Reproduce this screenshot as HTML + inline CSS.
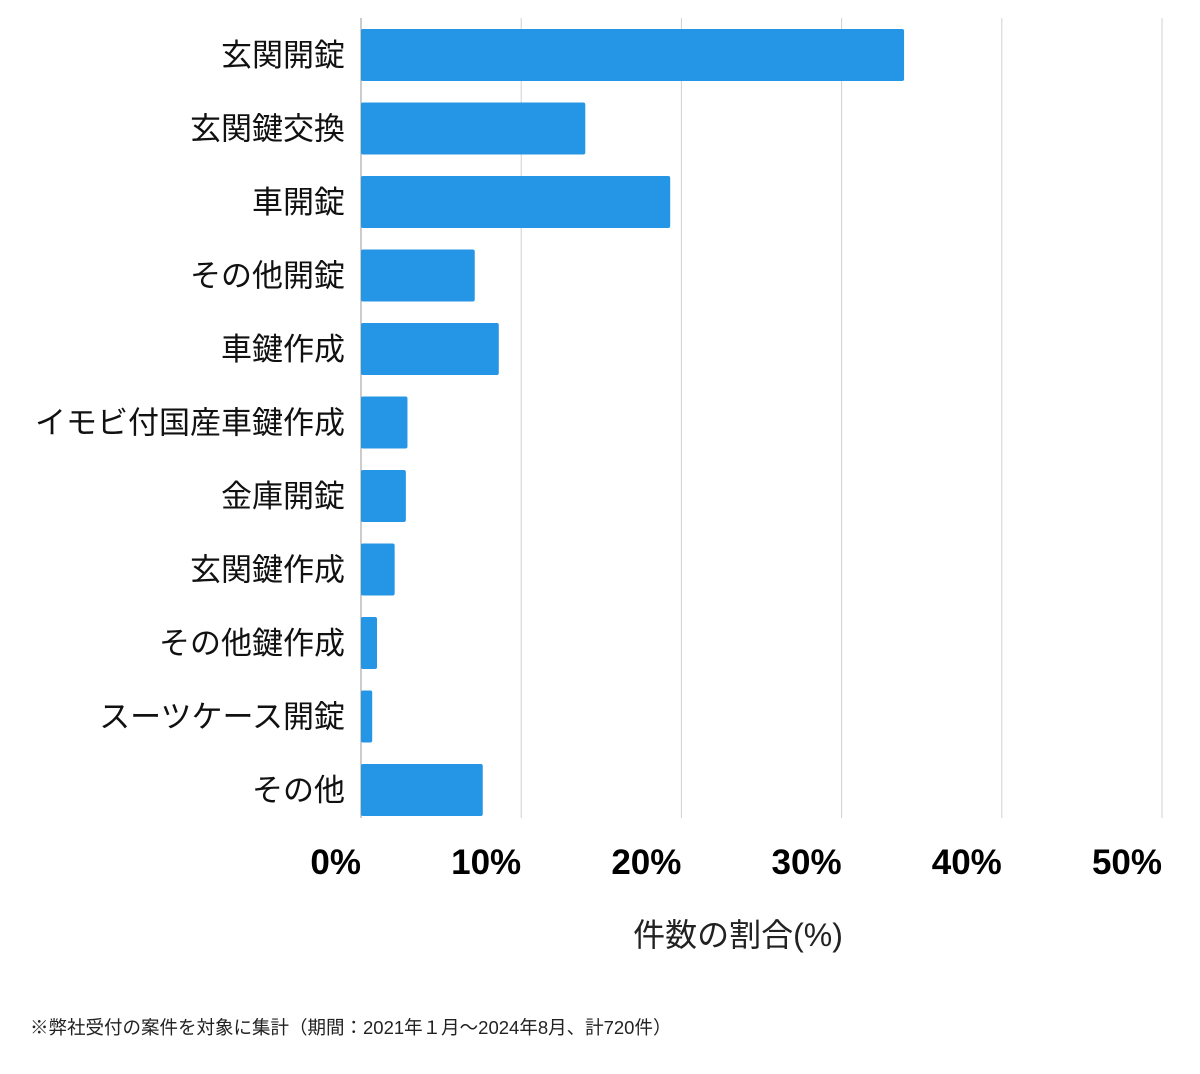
<!DOCTYPE html>
<html><head><meta charset="utf-8"><style>
html,body{margin:0;padding:0;background:#fff;}
body{width:1200px;height:1069px;overflow:hidden;font-family:"Liberation Sans","Noto Sans CJK JP",sans-serif;}
</style></head><body>
<svg id="chart" width="1200" height="1069" xmlns="http://www.w3.org/2000/svg"></svg>
<script>
const categories=["玄関開錠","玄関鍵交換","車開錠","その他開錠","車鍵作成","イモビ付国産車鍵作成","金庫開錠","玄関鍵作成","その他鍵作成","スーツケース開錠","その他"];
const values=[33.9,14.0,19.3,7.1,8.6,2.9,2.8,2.1,1.0,0.7,7.6];
const ticks=[0,10,20,30,40,50];
const tickLabels=["0%","10%","20%","30%","40%","50%"];
const NS="http://www.w3.org/2000/svg";
const svg=document.getElementById('chart');
const x0=361,x1=1162,xMax=50,top0=29,pitch=73.5,barH=52;
const xs=v=>x0+(x1-x0)*v/xMax;
const ys=i=>top0+i*pitch;
function mk(t,a){const e=document.createElementNS(NS,t);for(const k in a)e.setAttribute(k,a[k]);svg.appendChild(e);return e;}
ticks.forEach((t,i)=>{
 const g=mk('line',{x1:xs(t),x2:xs(t),y1:18,y2:818,stroke:i==0?'#999':'#d0d0d0','stroke-width':1});
 
 
 const l=mk('text',{x:xs(t),y:874,'text-anchor':'end','font-size':35,'font-weight':'bold',fill:'#000'});
 l.textContent=tickLabels[i];
 
 
});
categories.forEach((c,i)=>{
 const r=mk('rect',{x:x0,y:ys(i),width:xs(values[i])-x0,height:barH,fill:'#2595e6',rx:2});
 
 
 const t=mk('text',{x:345,y:ys(i)+barH/2+11,'text-anchor':'end','font-size':31,fill:'#111'});
 t.textContent=c;
 
 
});
const at=mk('text',{x:738,y:946,'text-anchor':'middle','font-size':32,fill:'#222'});
at.textContent="件数の割合(%)";


const fn=mk('text',{x:30,y:1034,'font-size':18.5,fill:'#222'});
fn.textContent="※弊社受付の案件を対象に集計（期間：2021年１月～2024年8月、計720件）";


</script>
</body></html>
